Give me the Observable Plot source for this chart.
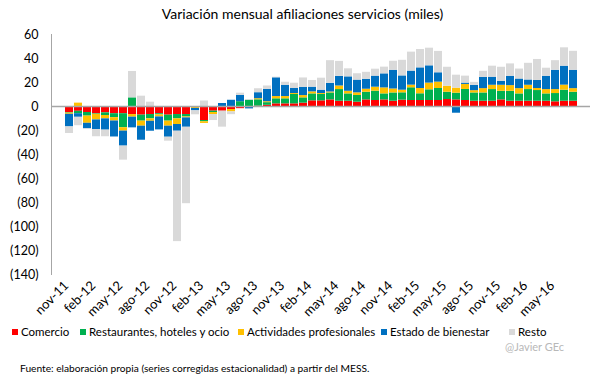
<!DOCTYPE html>
<html>
<head>
<meta charset="utf-8">
<script src="https://cdn.jsdelivr.net/npm/d3@7"></script>
<script src="https://cdn.jsdelivr.net/npm/@observablehq/plot@0.6"></script>
<style>
  body { margin: 0; background: #fff; font-family: Lato, "Open Sans", sans-serif; }
  #wrap { position: relative; width: 605px; height: 378px; overflow: hidden; }
  #title { position: absolute; top: 5px; left: 0; width: 605px; text-align: center; font-size: 14px; color: #000; }
  #chart { position: absolute; top: 28px; left: 0; }
  .leg { position: absolute; top: 325px; font-size: 11.5px; line-height: 13px; color: #000; white-space: nowrap; }
  .sw { display: inline-block; width: 6px; height: 6px; margin-right: 3px; vertical-align: 1px; }
  #src { position: absolute; top: 362px; left: 20px; font-size: 10.2px; color: #000; }
  #sig { position: absolute; top: 340px; left: 505px; font-size: 11px; line-height: 13px; color: #b8b8b8; }
</style>
</head>
<body>
<div id="wrap">
  <div id="title">Variación mensual afiliaciones servicios (miles)</div>
  <div id="chart"></div>
  <div id="legend"></div>
  <div id="sig">@Javier GEc</div>
  <div id="src">Fuente: elaboración propia (series corregidas estacionalidad) a partir del MESS.</div>
</div>
<script>
const months = ["nov-11","dic-11","ene-12","feb-12","mar-12","abr-12","may-12","jun-12","jul-12","ago-12","sep-12","oct-12",
  "nov-12","dic-12","ene-13","feb-13","mar-13","abr-13","may-13","jun-13","jul-13","ago-13","sep-13","oct-13",
  "nov-13","dic-13","ene-14","feb-14","mar-14","abr-14","may-14","jun-14","jul-14","ago-14","sep-14","oct-14",
  "nov-14","dic-14","ene-15","feb-15","mar-15","abr-15","may-15","jun-15","jul-15","ago-15","sep-15","oct-15",
  "nov-15","dic-15","ene-16","feb-16","mar-16","abr-16","may-16","jun-16","jul-16"];
const tickLabels = ["nov-11","feb-12","may-12","ago-12","nov-12","feb-13","may-13","ago-13","nov-13","feb-14","may-14",
  "ago-14","nov-14","feb-15","may-15","ago-15","nov-15","feb-16","may-16"];
const seriesNames = ["Comercio","Restaurantes, hoteles y ocio","Actividades profesionales","Estado de bienestar","Resto"];
const seriesColors = ["#FF0000","#00B050","#FFC000","#0070C0","#D9D9D9"];
const yTicks = [60,40,20,0,-20,-40,-60,-80,-100,-120,-140];

const comercio = [-5,-4,-5,-6,-5.3,-6,-6,-6.7,-7.2,-6.7,-6,-7.2,-6.7,-6.7,-0.3,-11.7,-3.9,-3.9,-2.5,-1.8,0,0.3,1,2.2,2.2,2.2,2.8,4.7,4.7,5.5,4.4,4.4,3.6,5.5,5,5.5,4.4,5.3,5,5,5,5,5.8,5.5,5,4.4,4.4,4.4,5.5,4.4,4.4,4.4,4.4,4.4,3.9,4.4,4.4];
const restaurantes = [-0.5,-2,-3,-0.5,-2.2,-3.3,-11.7,7.2,-5,-3.6,-1,-5,-3.6,-2,0,-1,-1.1,0,0,4,5.2,5.3,2.2,4.2,4.2,7.8,4.4,5.8,5.3,5.8,9.7,6.1,5.6,6.4,7.8,5,6.9,6.1,10.6,5.6,8.9,10,6.1,5.6,9.2,6.9,6.9,9.7,7.2,8.3,6.1,9.7,8.9,6.1,6.9,9.2,7.5];
const actividades = [-1,2.8,-6,-4.7,-2.8,-2.8,-2.8,-2.2,-4.2,-2,-1.7,-4.2,-4.7,-0.8,-1.3,-1.4,-1.7,0,-2,0,0,0.9,0.8,1.9,1.9,0.8,1.9,1.7,0.8,0.8,3,2.2,2.2,2.5,3.3,5,3.3,2.2,2.2,4.4,5.6,5.3,5,4.2,4.2,1.9,3.6,3.6,5,4.7,4.4,3.6,1.7,3.6,3.3,4.2,3];
const estado = [-10.5,-3,-4.5,-8,-9.4,-13.3,-12.5,-8.9,-11.7,-8.3,-10.8,-9.2,-5.6,-7.8,-2,0,0,2.5,5.2,5.3,-2,5,10.3,15.6,9.4,4.2,6.9,3.9,2.8,7.2,8,12,10.6,8.3,9.2,11.7,15.6,11.9,11.7,17.2,14.4,7.8,-0.8,-5.6,1.1,4.4,9.4,6.7,3.3,7.8,8,4.4,6.7,11.1,16.1,15.8,15.3];
const resto = [-5.5,-7,-0.5,-6,-5.5,0,-11.7,22,8.6,3.6,0,-3.3,-92,-63.7,-3.3,4.6,-5,-13.3,-2.3,1.8,0.5,3.3,2.8,0.5,2.5,4.4,7.8,5.6,10,18.9,12.5,6.7,5.3,5.8,5.8,5.6,7.5,13,15.8,15.3,14.7,17.8,15.8,10.8,5.8,2.5,5,9.2,11.7,10.3,8.3,13.9,17.5,6.7,8,15.3,15.8];

const seriesValues = [comercio, restaurantes, actividades, estado, resto];
const data = [];
seriesNames.forEach((s, k) => months.forEach((m, i) => data.push({month: m, serie: s, value: seriesValues[k][i]})));

const fmt = d => d < 0 ? `(${-d})` : `${d}`;

const chart = Plot.plot({
  width: 605,
  height: 295,
  marginLeft: 51,
  marginRight: 15,
  marginTop: 6,
  marginBottom: 49,
  style: {fontFamily: "Lato, 'Open Sans', sans-serif", fontSize: "12px", color: "#000", background: "#fff"},
  x: {domain: months, padding: 0.15, label: null},
  y: {domain: [-140, 60], label: null},
  color: {domain: seriesNames, range: seriesColors},
  marks: [
    Plot.barY(data, {x: "month", y: "value", fill: "serie", order: seriesNames}),
    Plot.ruleY([0], {stroke: "#A6A6A6", strokeWidth: 1.3}),
    Plot.frame({anchor: "left", stroke: "#A6A6A6"}),
    Plot.axisY({ticks: yTicks, tickFormat: fmt, tickSize: 0, tickPadding: 13, label: null, fontSize: 12.5}),
    Plot.axisX({ticks: tickLabels, tickRotate: -45, tickSize: 0, tickPadding: 9, label: null, fontSize: 13, dx: -3})
  ]
});
document.getElementById("chart").appendChild(chart);

const legendX = [12, 80, 238, 381, 509];
const legend = document.getElementById("legend");
seriesNames.forEach((s, k) => {
  const d = document.createElement("div");
  d.className = "leg";
  d.style.left = legendX[k] + "px";
  d.innerHTML = `<span class="sw" style="background:${seriesColors[k]}"></span>${s}`;
  legend.appendChild(d);
});
</script>
</body>
</html>
